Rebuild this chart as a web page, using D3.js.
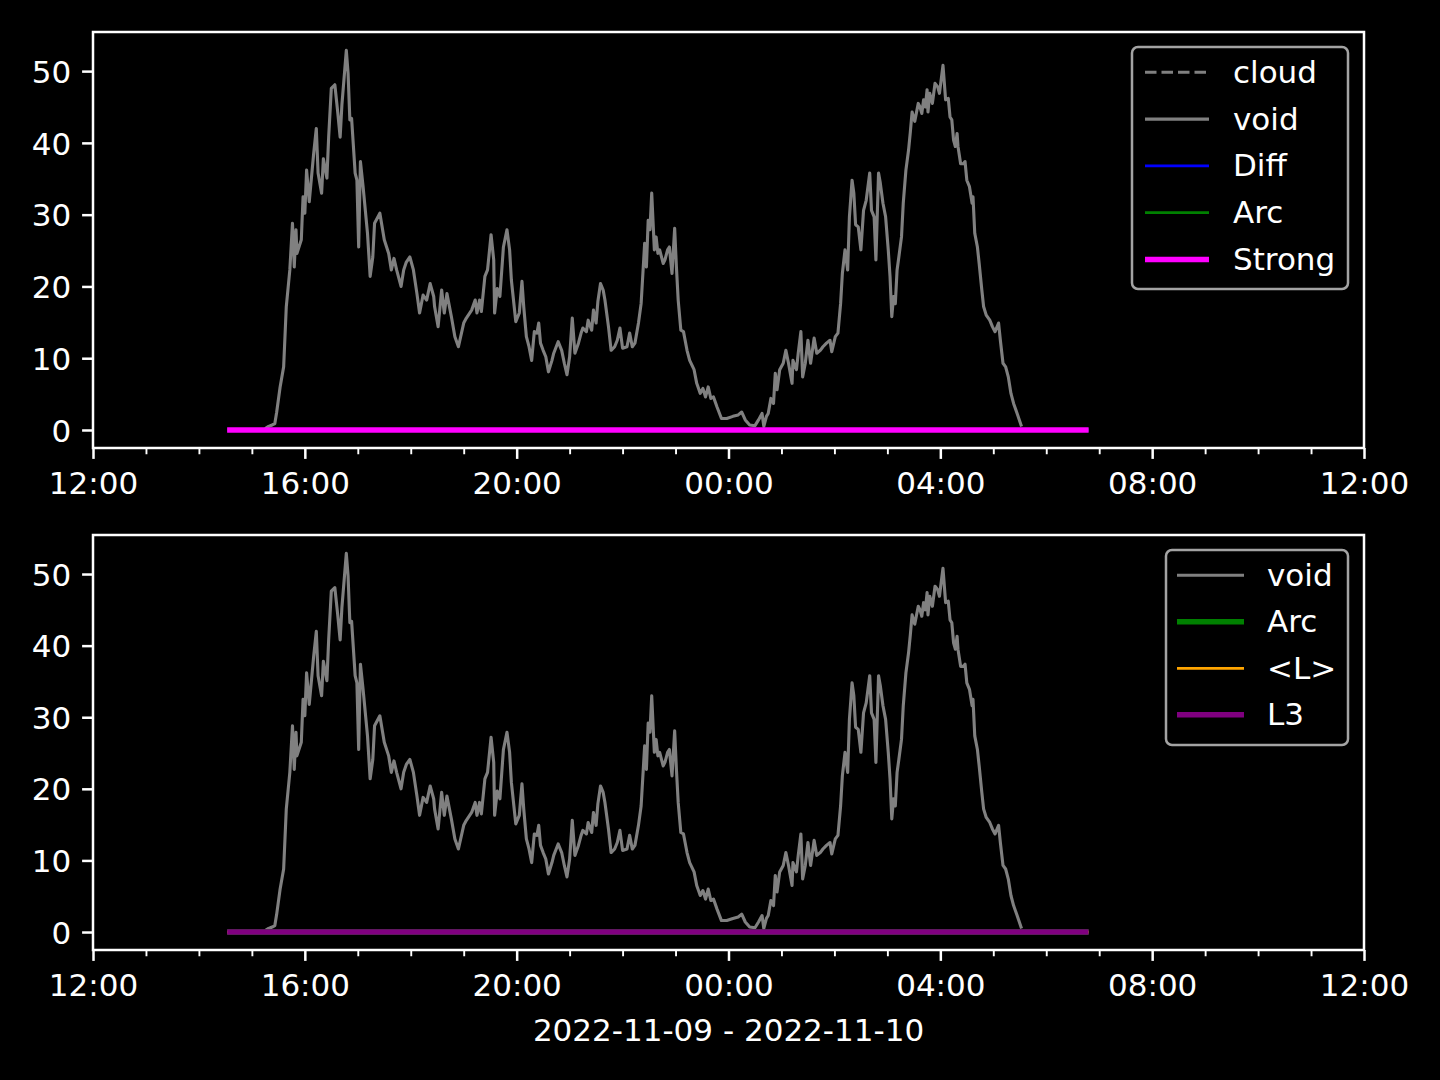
<!DOCTYPE html>
<html>
<head>
<meta charset="utf-8">
<script src="https://cdn.jsdelivr.net/npm/d3@7"></script>
<style>
  html, body { margin: 0; padding: 0; background: #000; }
  svg { display: block; }
  text { font-family: "DejaVu Sans", sans-serif; fill: #fff; }
</style>
</head>
<body>
<svg id="chart" width="1440" height="1080"></svg>
<script>
// ---------------- data ----------------
// start of the time window (local time) and length in hours
const windowStart = [2022, 10, 9, 12, 0];   // 2022-11-09 12:00
const windowHours = 24;
const xLabel = "2022-11-09 - 2022-11-10";
const majorTickHours = 4;
const yTicks = [0, 10, 20, 30, 40, 50];

// "void" series: [minutes after 12:00, value]
const voidReadings = [
  [195,0.2],[199,0.5],[203,0.7],[206,0.9],[208,2.4],[212,6.0],[216,8.8],[219,17.2],[223,22.3],[226,28.8],
  [228,22.7],[230,27.9],[231,24.6],[236,26.5],[238,32.5],[240,30.2],[242,36.2],[245,31.8],[250,38.5],[253,42.0],
  [255,35.8],[259,33.0],[261,37.8],[265,35.1],[267,40.8],[270,47.6],[274,48.1],[277,44.6],[280,40.8],[282,45.3],
  [287,52.9],[289,49.7],[291,43.2],[293,43.4],[297,35.8],[299,34.8],[301,25.5],[303,37.4],[306,33.9],[311,27.4],
  [314,21.4],[317,24.1],[319,28.8],[325,30.2],[330,26.5],[335,24.6],[338,22.3],[341,23.9],[344,22.3],[349,20.0],
  [352,22.3],[355,23.4],[359,24.1],[363,22.3],[367,19.0],[370,16.3],[374,18.8],[378,18.1],[382,20.4],[386,18.6],
  [387,17.2],[391,14.4],[395,19.5],[398,16.3],[401,19.0],[406,15.8],[410,13.0],[414,11.6],[420,14.9],[423,15.6],
  [429,16.7],[433,18.1],[435,16.3],[438,18.1],[440,16.5],[444,21.4],[447,22.3],[451,27.2],[454,23.7],[455,16.3],
  [458,19.7],[461,18.6],[465,25.5],[469,27.9],[472,25.1],[474,20.9],[479,15.1],[483,16.3],[486,20.7],[488,17.2],
  [491,13.0],[494,11.6],[497,9.7],[500,13.7],[503,13.5],[505,14.9],[507,12.1],[510,11.1],[513,10.2],[516,8.1],
  [520,9.7],[522,10.7],[527,12.3],[531,11.1],[534,9.3],[537,7.7],[540,10.2],[543,15.6],[546,10.7],[550,12.1],
  [553,13.5],[555,14.2],[559,13.7],[561,15.3],[565,13.9],[567,16.7],[570,14.9],[572,17.9],[575,20.4],[578,19.5],
  [580,18.1],[584,14.4],[587,11.1],[591,11.6],[594,12.5],[597,14.2],[600,11.4],[605,11.6],[608,13.5],[611,11.6],
  [614,12.1],[618,14.9],[621,17.6],[623,21.8],[625,26.0],[627,22.7],[629,29.2],[631,27.9],[633,33.0],[636,25.1],
  [638,26.9],[640,24.6],[642,25.1],[646,23.2],[648,23.7],[651,25.1],[653,25.5],[656,21.8],[659,28.1],[661,22.7],
  [663,18.1],[666,13.9],[669,13.7],[673,11.1],[676,9.7],[681,8.4],[684,6.5],[688,5.1],[691,5.8],[694,4.6],
  [697,6.0],[700,4.4],[703,4.6],[707,3.2],[712,1.6],[718,1.6],[725,1.9],[731,2.1],[735,2.5],[739,1.4],
  [744,0.7],[750,0.6],[754,1.4],[758,2.3],[760,0.5],[763,1.9],[765,2.3],[768,4.4],[771,3.7],[773,7.9],
  [775,5.6],[778,8.4],[782,9.3],[785,11.1],[788,9.3],[792,6.5],[793,9.7],[797,8.4],[799,10.7],[802,13.7],
  [804,7.4],[807,9.3],[810,12.5],[813,9.3],[817,12.8],[820,10.7],[824,11.1],[827,11.6],[831,12.1],[835,12.5],
  [837,10.9],[841,13.0],[844,13.5],[847,17.6],[849,21.8],[852,25.1],[855,22.3],[857,29.7],[860,34.8],[862,33.0],
  [864,28.6],[867,28.3],[870,25.1],[873,30.6],[876,32.0],[880,35.8],[882,30.6],[885,29.7],[887,23.7],[890,35.8],
  [892,34.4],[895,31.6],[898,29.7],[901,25.1],[903,21.4],[905,15.8],[907,18.6],[909,17.6],[911,22.3],[913,24.1],
  [916,26.9],[918,31.6],[921,36.2],[924,39.0],[926,41.5],[928,44.3],[931,43.0],[935,45.5],[937,45.0],[939,44.1],
  [941,46.0],[943,45.0],[945,47.4],[946,44.3],[948,46.9],[951,45.5],[954,48.3],[957,47.8],[959,46.9],[963,50.8],
  [966,46.0],[969,46.2],[971,43.6],[973,43.2],[975,40.4],[977,39.5],[979,41.3],[980,39.5],[983,37.1],[986,37.1],
  [988,37.4],[990,34.8],[993,33.9],[996,31.6],[997,32.5],[999,27.4],[1002,25.5],[1004,23.2],[1007,19.5],[1009,17.2],
  [1012,16.0],[1016,15.3],[1019,14.4],[1022,13.7],[1026,14.9],[1028,12.5],[1031,9.3],[1034,8.8],[1037,7.4],[1040,5.1],
  [1043,3.7],[1047,2.3],[1052,0.5]
];

// flat series (all zero) spanning 14:32 .. 06:48
const flatMinutes = [152, 1128];
const flatValues = [0, 0];
const cloudReadings = [];   // no visible data

// series definitions per panel (drawing order = legend order)
const topSeries = [
  { name: "cloud",  color: "#808080", width: 3,   dash: "11.5,5", data: "cloud" },
  { name: "void",   color: "#808080", width: 3.1, dash: null,     data: "void" },
  { name: "Diff",   color: "#0000ff", width: 2.8, dash: null,     data: "flat" },
  { name: "Arc",    color: "#008000", width: 2.8, dash: null,     data: "flat" },
  { name: "Strong", color: "#ff00ff", width: 5.5, dash: null,     data: "flat" }
];
const bottomSeries = [
  { name: "void",   color: "#808080", width: 3.1, dash: null, data: "void" },
  { name: "Arc",    color: "#008000", width: 5.5, dash: null, data: "flat" },
  { name: "<L>",    color: "#ffa500", width: 2.8, dash: null, data: "flat" },
  { name: "L3",     color: "#800080", width: 5.5, dash: null, data: "flat" }
];

// ---------------- layout ----------------
const FS = 31;
const L = 93, R = 1364;
const panels = [
  { top: 32,  bottom: 448, series: topSeries,
    legend: { x: 1132, y: 47, w: 216, h: 242, hx0: 1145, hx1: 1209, tx: 1233, y0: 72.3, dy: 46.8 } },
  { top: 535, bottom: 950, series: bottomSeries,
    legend: { x: 1166, y: 550, w: 182, h: 195, hx0: 1177, hx1: 1244, tx: 1267, y0: 575.3, dy: 46.5 } }
];
const yDomain = [-2.51, 55.45];

const t0 = new Date(windowStart[0], windowStart[1], windowStart[2], windowStart[3], windowStart[4]);
const toDate = m => new Date(t0.getTime() + m * 60000);
const t1 = toDate(windowHours * 60);

const datasets = {
  void: voidReadings.map(d => ({ t: toDate(d[0]), v: d[1] })),
  flat: flatMinutes.map((m, i) => ({ t: toDate(m), v: flatValues[i] })),
  cloud: cloudReadings.map(d => ({ t: toDate(d[0]), v: d[1] }))
};

const svg = d3.select("#chart");
svg.append("rect").attr("width", 1440).attr("height", 1080).attr("fill", "#000");

const x = d3.scaleTime().domain([t0, t1]).range([L, R]);
const majorTicks = d3.timeHour.every(majorTickHours).range(t0, new Date(t1.getTime() + 1));
const minorTicks = d3.timeHour.every(1).range(t0, new Date(t1.getTime() + 1))
  .filter(d => !majorTicks.some(m => +m === +d));

panels.forEach(p => {
  const y = d3.scaleLinear().domain(yDomain).range([p.bottom, p.top]);
  const g = svg.append("g");

  const clipId = "clip" + p.top;
  svg.append("clipPath").attr("id", clipId)
    .append("rect").attr("x", L).attr("y", p.top).attr("width", R - L).attr("height", p.bottom - p.top);

  const line = d3.line().x(d => x(d.t)).y(d => y(d.v));
  const plot = g.append("g").attr("clip-path", `url(#${clipId})`);
  p.series.forEach(s => {
    const data = datasets[s.data];
    if (!data.length) return;
    plot.append("path").datum(data)
      .attr("d", line)
      .attr("fill", "none")
      .attr("stroke", s.color)
      .attr("stroke-width", s.width)
      .attr("stroke-linejoin", "round")
      .attr("stroke-dasharray", s.dash);
  });

  const xAxis = d3.axisBottom(x).tickValues(majorTicks)
    .tickFormat(d3.timeFormat("%H:%M")).tickSize(10.9).tickSizeOuter(0).tickPadding(13.5);
  const gx = g.append("g").attr("transform", `translate(0,${p.bottom})`).call(xAxis);
  gx.select(".domain").remove();
  gx.selectAll(".tick line").attr("stroke", "#fff").attr("stroke-width", 2.5);
  gx.selectAll(".tick text").attr("font-size", FS).attr("font-family", "DejaVu Sans").attr("fill", "#fff");

  const xMinor = d3.axisBottom(x).tickValues(minorTicks).tickFormat("").tickSize(6.25).tickSizeOuter(0);
  const gxm = g.append("g").attr("transform", `translate(0,${p.bottom})`).call(xMinor);
  gxm.select(".domain").remove();
  gxm.selectAll(".tick line").attr("stroke", "#fff").attr("stroke-width", 1.9);

  const yAxis = d3.axisLeft(y).tickValues(yTicks).tickSize(10.9).tickSizeOuter(0).tickPadding(11);
  const gy = g.append("g").attr("transform", `translate(${L},0)`).call(yAxis);
  gy.select(".domain").remove();
  gy.selectAll(".tick line").attr("stroke", "#fff").attr("stroke-width", 2.5);
  gy.selectAll(".tick text").attr("font-size", FS).attr("font-family", "DejaVu Sans")
    .attr("fill", "#fff").attr("dy", "0.36em");

  g.append("rect").attr("x", L).attr("y", p.top).attr("width", R - L).attr("height", p.bottom - p.top)
    .attr("fill", "none").attr("stroke", "#fff").attr("stroke-width", 2.5);

  const lg = p.legend;
  const leg = g.append("g");
  leg.append("rect").attr("x", lg.x).attr("y", lg.y).attr("width", lg.w).attr("height", lg.h)
    .attr("rx", 6).attr("ry", 6)
    .attr("fill", "rgba(0,0,0,0.8)").attr("stroke", "#a3a3a3").attr("stroke-width", 2.5);
  p.series.forEach((s, i) => {
    const yy = lg.y0 + i * lg.dy;
    leg.append("line").attr("x1", lg.hx0).attr("x2", lg.hx1).attr("y1", yy).attr("y2", yy)
      .attr("stroke", s.color).attr("stroke-width", s.width).attr("stroke-dasharray", s.dash);
    leg.append("text").attr("x", lg.tx).attr("y", yy + 10.5).attr("font-size", FS).text(s.name);
  });
});

svg.append("text").attr("x", (L + R) / 2).attr("y", 1041).attr("text-anchor", "middle")
  .attr("font-size", FS).text(xLabel);
</script>
</body>
</html>
